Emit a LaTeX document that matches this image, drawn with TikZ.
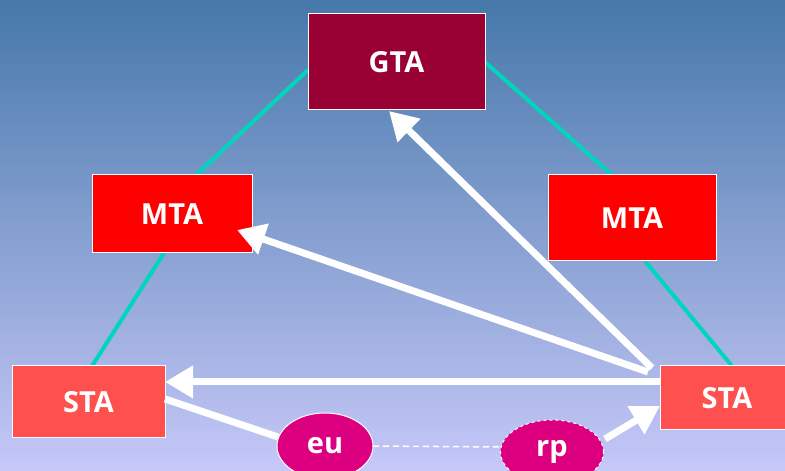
\documentclass[tikz,border=0pt]{standalone}
\usepackage{fontspec}
\setmainfont{Open Sans}
\usetikzlibrary{arrows.meta,shapes.geometric}
\definecolor{bgtop}{RGB}{70,120,170}
\definecolor{bgbot}{RGB}{198,200,248}
\definecolor{gtacol}{RGB}{153,0,51}
\definecolor{mtacol}{RGB}{255,0,0}
\definecolor{stacol}{RGB}{255,80,80}
\definecolor{ellcol}{RGB}{220,0,128}
\definecolor{tealcol}{RGB}{0,214,190}
\tikzset{
  box/.style={draw=white,line width=1pt,text=white,font=\bfseries\fontsize{29}{32}\selectfont,inner sep=0pt,anchor=center},
  oval/.style={ellipse,draw=white,line width=1pt,fill=ellcol,text=white,font=\bfseries\fontsize{29}{32}\selectfont,inner sep=0pt},
  link/.style={tealcol,line width=4pt},
  bigarrow/.style={white,line width=7pt,-{Triangle[length=28pt,width=31pt]}},
  widewhite/.style={white,line width=7pt},
}
\begin{document}
\begin{tikzpicture}[x=1pt,y=1pt]
\useasboundingbox (0,0) rectangle (785,471);
\shade[top color=bgtop,bottom color=bgbot] (0,0) rectangle (785,471);
% link endpoints
\coordinate (gL) at (308,401);
\coordinate (gR) at (485,409);
\coordinate (mlT) at (196,296);
\coordinate (mlB) at (164,218);
\coordinate (mrT) at (612,296);
\coordinate (mrB) at (645,210);
\coordinate (slT) at (92,105);
\coordinate (srT) at (732,105);
% teal links (behind boxes)
\draw[link] (gL) -- (mlT);
\draw[link] (gR) -- (mrT);
\draw[link] (mlB) -- (slT);
\draw[link] (mrB) -- (srT);
% nodes
\node[box,fill=gtacol,minimum width=177pt,minimum height=96pt] (gta) at (396.5,409) {GTA};
\node[box,fill=mtacol,minimum width=160pt,minimum height=78pt] (mtal) at (172,257) {MTA};
\node[box,fill=mtacol,minimum width=168pt,minimum height=86pt] (mtar) at (632,253) {MTA};
\node[box,fill=stacol,minimum width=153pt,minimum height=72pt] (stal) at (88.5,69) {STA};
\node[box,fill=stacol,minimum width=134pt,minimum height=64pt] (star) at (727,73) {STA};
\node[oval,minimum width=96pt,minimum height=66pt] (eu) at (325,25) {eu};
\node[oval,dashed,minimum width=103pt,minimum height=64pt] (rp) at (552,19) {rp};
% arrow endpoints
\coordinate (s1) at (652,103);
\coordinate (s2) at (648,99);
\coordinate (s3) at (660,89);
\coordinate (tG) at (389,360);
\coordinate (tM) at (237,241);
\coordinate (tS) at (165,89);
\coordinate (slR) at (165,72);
\coordinate (euL) at (278,34);
\coordinate (rpR) at (605,32);
\coordinate (srL) at (660,65);
\coordinate (euE) at (373,25);
\coordinate (rpW) at (500,24);
\draw[bigarrow] (s1) -- (tG);
\draw[bigarrow] (s2) -- (tM);
\draw[bigarrow] (s3) -- (tS);
\draw[widewhite] (slR) -- (euL);
\draw[bigarrow] (rpR) -- (srL);
\draw[white,line width=1.5pt,dash pattern=on 6pt off 4pt] (euE) -- (rpW);
\end{tikzpicture}
\end{document}
